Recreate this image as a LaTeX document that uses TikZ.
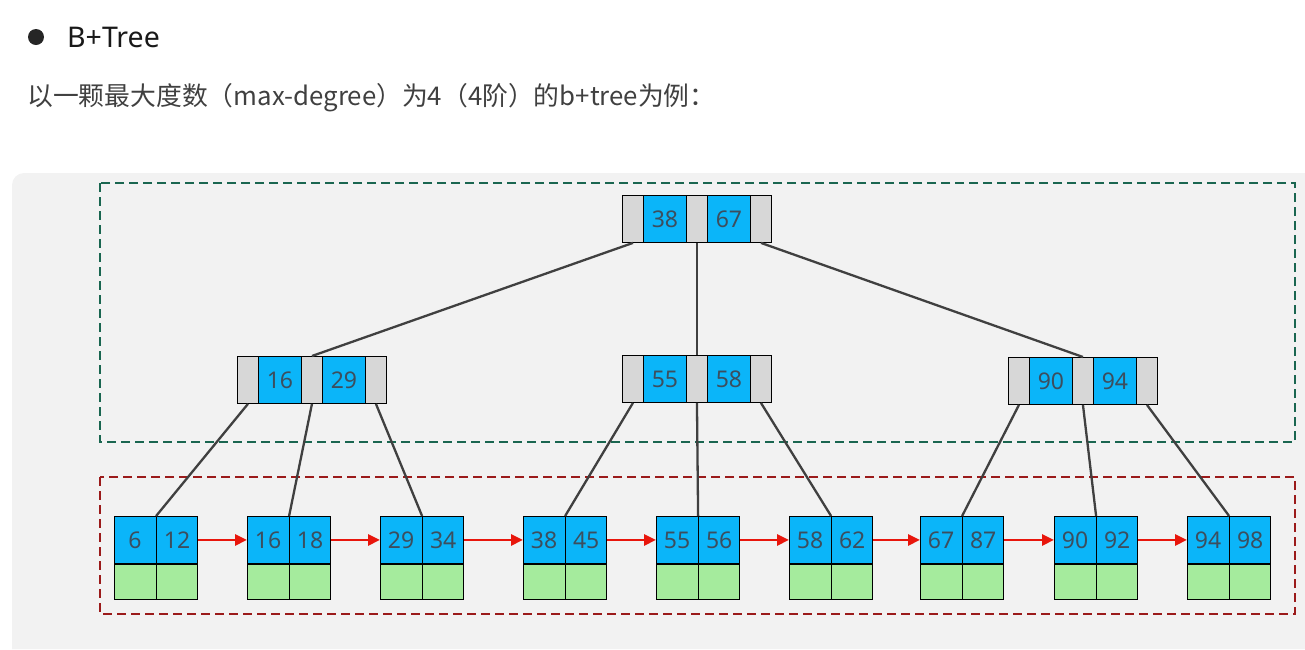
\documentclass[tikz,border=0pt]{standalone}
\usepackage{fontspec}
\setmainfont{Noto Sans}
\newfontfamily\cjk{Noto Sans CJK SC}
\usepackage{xcolor}
\usepackage{tikz}
\usetikzlibrary{arrows.meta, positioning, shapes.multipart}

\definecolor{cellblue}{HTML}{0BB5F9}
\definecolor{cellgray}{HTML}{D7D7D7}
\definecolor{cellgreen}{HTML}{A5EB9D}
\definecolor{celltext}{HTML}{3C4E5E}
\definecolor{linkgray}{HTML}{404040}
\definecolor{nextred}{HTML}{E8160C}
\definecolor{innergreen}{HTML}{1A6650}
\definecolor{leafred}{HTML}{9B1B1B}
\definecolor{panel}{HTML}{F2F2F2}

% pointer cell, key cell, data cell
\newcommand\pc{\makebox[21pt]{\rule[-15pt]{0pt}{47pt}}}
\newcommand\kc[1]{\makebox[41.2pt]{\rule[-15pt]{0pt}{47pt}#1}}
\newcommand\dc{\makebox[41.2pt]{\rule{0pt}{35pt}}}

\begin{document}
\begin{tikzpicture}[
    x=1pt, y=-1pt,
    node distance = 0pt,
    inode/.style = {rectangle split, rectangle split horizontal,
                    rectangle split parts=5, draw=black, line width=0.9pt,
                    inner sep=0pt, anchor=north west,
                    rectangle split part fill={cellgray,cellblue,cellgray,cellblue,cellgray},
                    font=\fontsize{23}{23}\selectfont, text=celltext},
    leaf/.style = {rectangle split, rectangle split horizontal,
                   rectangle split parts=2, draw=black, line width=0.9pt,
                   inner sep=0pt, anchor=north west,
                   rectangle split part fill={cellblue},
                   font=\fontsize{23}{23}\selectfont, text=celltext},
    leafdata/.style = {leaf, rectangle split part fill={cellgreen}},
    link/.style = {draw=linkgray, line width=2.3pt},
    next/.style = {draw=nextred, line width=2.8pt,
                   -{Triangle[length=12pt, width=11pt]}},
    region/.style = {line width=1.6pt, dash pattern=on 9pt off 5pt},
                    ]
    \useasboundingbox (0,0) rectangle (1305,649);
    \fill[panel] (12,649) [rounded corners=12pt] -- (12,173)
        [sharp corners] -- (1305,173) -- (1305,649) -- cycle;

    % heading
    \node (dot) [circle, fill=black!85, inner sep=0pt, minimum size=16pt] at (36,37) {};
    \node (title) [anchor=west, inner sep=0pt, font=\fontsize{28.5}{28.5}\selectfont,
                   text=black!90] at (67,37) {B+Tree};
    \node (caption) [anchor=west, inner sep=0pt, font=\fontsize{25.8}{25.8}\selectfont\cjk,
                     text=black!75] at (27,98)
        {以一颗最大度数（max-degree）为4（4阶）的b+tree为例：};

    % regions
    \draw[region, innergreen] (100,183) rectangle (1295,442);
    \draw[region, leafred] (100,477) rectangle (1295,614);

    % inner nodes
    \node (root) [inode] at (622,195)
        {\pc\nodepart{two}\kc{38}\nodepart{three}\pc\nodepart{four}\kc{67}\nodepart{five}\pc};
    \node (n1) [inode] at (237,356)
        {\pc\nodepart{two}\kc{16}\nodepart{three}\pc\nodepart{four}\kc{29}\nodepart{five}\pc};
    \node (n2) [inode] at (622,355)
        {\pc\nodepart{two}\kc{55}\nodepart{three}\pc\nodepart{four}\kc{58}\nodepart{five}\pc};
    \node (n3) [inode] at (1008,357)
        {\pc\nodepart{two}\kc{90}\nodepart{three}\pc\nodepart{four}\kc{94}\nodepart{five}\pc};

    % leaves
    \node (l1) [leaf] at (114,516)  {\kc{6}\nodepart{two}\kc{12}};
    \node (l2) [leaf] at (247,516)  {\kc{16}\nodepart{two}\kc{18}};
    \node (l3) [leaf] at (380,516)  {\kc{29}\nodepart{two}\kc{34}};
    \node (l4) [leaf] at (523,516)  {\kc{38}\nodepart{two}\kc{45}};
    \node (l5) [leaf] at (656,516)  {\kc{55}\nodepart{two}\kc{56}};
    \node (l6) [leaf] at (789,516)  {\kc{58}\nodepart{two}\kc{62}};
    \node (l7) [leaf] at (920,516)  {\kc{67}\nodepart{two}\kc{87}};
    \node (l8) [leaf] at (1054,516) {\kc{90}\nodepart{two}\kc{92}};
    \node (l9) [leaf] at (1187,516) {\kc{94}\nodepart{two}\kc{98}};
    \foreach \i in {1,...,9}
        \node (d\i) [leafdata, below=of l\i.south west, anchor=north west] {\dc\nodepart{two}\dc};

    % tree links
    \draw[link] (root.one south)   -- (n1.three north);
    \draw[link] (root.three south) -- (n2.three north);
    \draw[link] (root.five south)  -- (n3.three north);
    \draw[link] (n1.one south)   -- (l1.north);
    \draw[link] (n1.three south) -- (l2.north);
    \draw[link] (n1.five south)  -- (l3.north);
    \draw[link] (n2.one south)   -- (l4.north);
    \draw[link] (n2.three south) -- (l5.north);
    \draw[link] (n2.five south)  -- (l6.north);
    \draw[link] (n3.one south)   -- (l7.north);
    \draw[link] (n3.three south) -- (l8.north);
    \draw[link] (n3.five south)  -- (l9.north);

    % leaf chain
    \foreach \i [evaluate=\i as \j using int(\i+1)] in {1,...,8}
        \draw[next] (l\i.east) -- (l\j.west);
\end{tikzpicture}
\end{document}
